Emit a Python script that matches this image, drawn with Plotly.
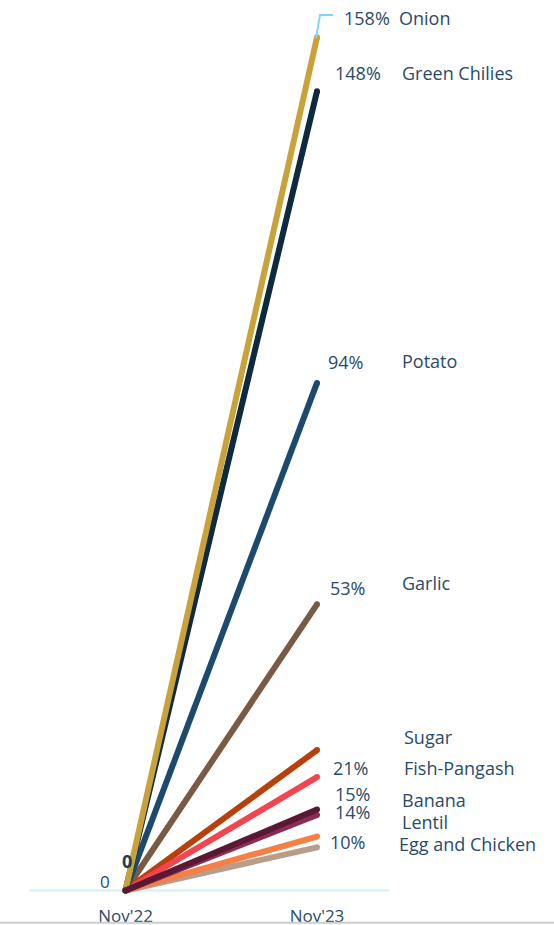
import plotly.graph_objects as go

periods = ["Nov'22", "Nov'23"]
items = ["Chicken", "Egg", "Garlic", "Sugar", "Fish-Pangash", "Potato", "Green Chilies", "Onion", "Lentil", "Banana"]
start_values = [0, 0, 0, 0, 0, 0, 0, 0, 0, 0]
end_values = [8, 10, 53, 26, 21, 94, 148, 158, 14, 15]
colors = ["#b89e88", "#f57f45", "#7b5a44", "#b8400c", "#f3444f", "#1b4a6e", "#0e2a3e", "#c9a23a", "#8a2c55", "#5a1834"]

label_values = [158, 148, 94, 53, 26, 21, 15, 14, 10]
label_pcts = ["158%", "148%", "94%", "53%", "", "21%", "15%", "14%", "10%"]
label_names = ["Onion", "Green Chilies", "Potato", "Garlic", "Sugar", "Fish-Pangash", "Banana", "Lentil", "Egg and Chicken"]
pct_shift = [(50, 19), (41, 18), (28, 21), (30, 16), (0, 0), (33, 9), (35, 16), (35, 3), (30, -5)]
name_shift = [(80, 19), (83, 18), (83, 22), (83, 21), (85, 13), (85, 9), (83, 10), (83, -7), (80, -7)]

TXT = "#2a4a6b"
FONT = "Open Sans"

fig = go.Figure()
for name, s, e, c in zip(items, start_values, end_values, colors):
    fig.add_trace(go.Scatter(
        x=periods, y=[s, e], mode="lines+markers", name=name,
        line=dict(color=c, width=6), marker=dict(color=c, size=6),
        cliponaxis=False, hoverinfo="skip"))

ann = []
for v, p, n, ps, ns in zip(label_values, label_pcts, label_names, pct_shift, name_shift):
    if p:
        ann.append(dict(x=1, y=v, xref="x", yref="y", text=p, showarrow=False,
                        xshift=ps[0], yshift=ps[1], xanchor="center", yanchor="middle",
                        font=dict(family=FONT, size=18, color=TXT)))
    ann.append(dict(x=1, y=v, xref="x", yref="y", text=n, showarrow=False,
                    xshift=ns[0], yshift=ns[1], xanchor="left", yanchor="middle",
                    font=dict(family=FONT, size=18, color=TXT)))

ann.append(dict(x=0, y=0, xref="x", yref="y", text="<b>0</b>", showarrow=False,
                xshift=1, yshift=30, font=dict(family=FONT, size=18, color="#1d3c5a")))
ann.append(dict(x=0, y=0, xref="x", yref="y", text="0", showarrow=False,
                xshift=-21, yshift=9, font=dict(family=FONT, size=17, color=TXT)))

shapes = [
    dict(type="line", xref="x", yref="y", x0=-0.504, x1=1.376, y0=0, y1=0,
         line=dict(color="#d4effa", width=2), layer="below"),
    dict(type="path", xref="x", yref="y",
         path="M 0.995,157.9 L 1.0157,162.13 L 1.0836,162.13",
         line=dict(color="#84d4f5", width=2), layer="above"),
    dict(type="line", xref="paper", yref="paper", x0=-0.02, x1=1.02, y0=-0.02865, y1=-0.02865,
         line=dict(color="#cdcdcd", width=2), layer="above"),
]

fig.update_layout(
    width=554, height=925,
    margin=dict(l=0, r=0, t=0, b=28, autoexpand=False),
    paper_bgcolor="white", plot_bgcolor="white",
    showlegend=False,
    annotations=ann, shapes=shapes,
    xaxis=dict(type="category", range=[-0.6554, 2.2376], showgrid=False, zeroline=False,
               showline=False, ticks="outside", ticklen=4, tickcolor="rgba(0,0,0,0)",
               automargin=False,
               tickfont=dict(family=FONT, size=17, color=TXT), fixedrange=True),
    yaxis=dict(range=[-1.2, 164.91], visible=False, fixedrange=True, automargin=False),
)

fig.write_html("out.html", config={"displayModeBar": False},
               post_script="document.body.style.margin='0px';document.body.style.overflow='hidden';")
